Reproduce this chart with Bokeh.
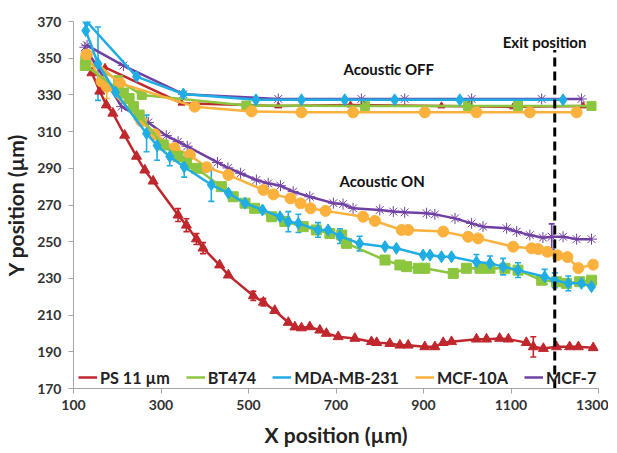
from bokeh.plotting import figure
from bokeh.models import (Legend, LegendItem, Label, FixedTicker, Whisker,
                          ColumnDataSource, TeeHead)
from bokeh.embed import file_html
from bokeh.resources import INLINE

# ---------------- data ----------------
x_ticks = [100, 300, 500, 700, 900, 1100, 1300]
y_ticks = [170, 190, 210, 230, 250, 270, 290, 310, 330, 350, 370]
exit_x = 1200

series_names = ["PS 11 \u00b5m", "BT474", "MDA-MB-231", "MCF-10A", "MCF-7"]

# Acoustic ON
red_on_x = [142, 160, 175, 190, 217, 244, 263, 282, 339, 358, 381, 396, 434, 454, 511, 534, 560, 591, 606, 621,
            640, 663, 678, 705, 743, 781, 793, 823, 846, 865, 903, 926, 945, 964, 1021, 1044, 1074, 1094, 1135,
            1151, 1174, 1204, 1234, 1254, 1288]
red_on_y = [342, 332, 324.5, 320, 308, 296.5, 289, 283, 264.5, 259, 251.5, 246.5, 237.3, 231.8, 220.5, 217, 212.5,
            206, 203.5, 203, 203.6, 201.8, 200, 198.2, 197.3, 195.5, 195, 194.5, 193.6, 193.6, 192.7, 192.7, 195,
            195.5, 196.9, 196.9, 197.3, 196.9, 195, 192.7, 191.8, 192.7, 192.7, 192.7, 192.2]
red_on_err = [0, 0, 0, 0, 0, 0, 0, 0, 3.5, 3.5, 3, 3, 0, 0, 2.5, 2, 0, 0, 0, 0,
              0, 0, 0, 0, 0, 0, 0, 0, 0, 0, 0, 0, 0, 0, 0, 0, 0, 0, 0,
              5.5, 0, 0, 0, 0, 0]

green_on_x = [127, 214, 227, 237, 250, 305, 339, 358, 381, 438, 465, 492, 514, 553, 583, 625, 655, 686, 713, 724,
              812, 846, 861, 888, 903, 968, 998, 1029, 1052, 1086, 1116, 1170, 1204, 1227, 1257, 1284]
green_on_y = [346, 331, 328, 323.6, 319, 302.7, 296.4, 292.7, 290, 280, 274.5, 271, 268.2, 263.6, 261, 258.2, 256.4,
              254.5, 253.6, 249.1, 240, 237.3, 236.4, 235.5, 235.5, 232.7, 235.5, 235.5, 235.5, 235.5, 234.5, 229,
              228.2, 227.3, 228.2, 229]

blue_on_x = [128, 156, 196, 267, 291, 320, 353, 415, 454, 492, 532, 572, 591, 614, 659, 682, 709, 754, 812, 838,
             899, 915, 941, 964, 1021, 1052, 1082, 1116, 1177, 1200, 1231, 1261, 1284]
blue_on_y = [365, 347, 331.5, 309, 302.4, 296.4, 290.7, 281, 276.5, 271, 267.3, 263.6, 260.9, 260, 256.4, 256.4,
             253, 249, 247.3, 246.4, 242.7, 242.7, 241.8, 241.8, 239, 238.2, 236.4, 234.5, 230.9, 229, 227.3,
             227.3, 225.5]
blue_on_err = [0, 20, 0, 10, 8, 5, 5.5, 9, 0, 0, 0, 0, 5.5, 5, 4, 0, 4, 4, 0, 0,
               0, 0, 0, 0, 4, 4, 4.5, 4, 4, 4, 4, 0, 0]

orange_on_x = [130, 164, 176, 255, 286, 331, 366, 404, 454, 534, 557, 596, 619, 642, 676, 762, 789, 850, 865, 945,
               1002, 1025, 1105, 1147, 1162, 1183, 1206, 1229, 1254, 1288]
orange_on_y = [352, 337.3, 334.5, 315.7, 308.5, 301, 297.3, 290.6, 286.4, 278.2, 275.8, 273.6, 270.9, 268.2, 266.8,
               263.6, 261.3, 256.4, 256.4, 255.5, 252.7, 251.8, 247.3, 246.4, 246, 244.5, 242.6, 241.6, 235.6, 237.5]
orange_on_err = [0, 0, 6.5, 0, 0, 0, 0, 0, 0, 0, 0, 0, 0, 0, 0, 0, 0, 0, 0, 0,
                 0, 0, 0, 0, 0, 0, 0, 0, 0, 0]

purple_on_x = [126, 210, 271, 312, 339, 360, 429, 453, 482, 518, 545, 573, 602, 640, 694, 716, 739, 800, 831, 857,
               907, 926, 972, 1010, 1036, 1090, 1113, 1143, 1173, 1193, 1219, 1250, 1284]
purple_on_y = [356, 323.6, 315, 307.8, 304.5, 302, 293.2, 290.2, 287.3, 283.6, 281.8, 280.5, 277.3, 274.5, 271,
               270.5, 268.2, 267.3, 266.4, 266, 265.5, 264.9, 262.7, 260, 258.2, 257.3, 255.5, 253.6, 252.2, 252.7,
               252.7, 251.4, 251.4]
purple_on_err = [0] * 29 + [7, 0, 0, 0]

# Acoustic OFF
red_off_x = [172, 347, 568, 733, 941, 1105, 1265]
red_off_y = [345, 325.5, 324, 324.5, 324, 323.5, 324]
green_off_x = [127, 202, 256, 495, 766, 1002, 1116, 1284]
green_off_y = [349, 338, 330, 324.2, 324, 324, 324, 324]
blue_off_x = [130, 244, 351, 517, 621, 720, 834, 983, 1219]
blue_off_y = [370, 340, 330.5, 327.3, 327.3, 327.3, 327.3, 327.3, 327.3]
orange_off_x = [130, 206, 377, 507, 621, 739, 903, 1021, 1143, 1250]
orange_off_y = [352, 336.4, 323.6, 321, 320.5, 320.5, 320.5, 320.5, 320.5, 320.5]
purple_off_x = [131, 214, 351, 568, 758, 857, 1010, 1170, 1261]
purple_off_y = [357, 346, 330.4, 327.8, 327.8, 327.8, 327.8, 327.8, 327.8]

# ---------------- styling ----------------
RED = "#C0272D"
GREEN = "#8CC63F"
BLUE = "#1FADE4"
ORANGE = "#FBB13C"
PURPLE = "#7140A3"
FONT = "Lato"

p = figure(frame_width=525, frame_height=367, output_backend="svg", toolbar_location=None,
           x_range=(100, 1300), y_range=(170, 370),
           min_border_left=69, min_border_right=10, min_border_top=21, min_border_bottom=10)
p.outline_line_color = None
p.xgrid.visible = False
p.ygrid.visible = False
p.background_fill_color = "white"

for ax in (p.xaxis[0], p.yaxis[0]):
    ax.axis_line_color = "#a6a6a6"
    ax.major_tick_line_color = "#a6a6a6"
    ax.minor_tick_line_color = None
    ax.major_tick_out = 5
    ax.major_tick_in = 0
    ax.major_label_text_font = FONT
    ax.major_label_text_font_style = "bold"
    ax.major_label_text_font_size = "14px"
    ax.major_label_text_color = "#333333"
    ax.axis_label_text_font = FONT
    ax.axis_label_text_font_style = "bold"
    ax.axis_label_text_font_size = "21px"
    ax.axis_label_text_color = "#222222"
p.xaxis.ticker = FixedTicker(ticks=x_ticks)
p.yaxis.ticker = FixedTicker(ticks=y_ticks)
p.xaxis.axis_label = "X position (\u00b5m)"
p.yaxis.axis_label = "Y position (\u00b5m)"
p.xaxis.major_label_standoff = 6
p.yaxis.major_label_standoff = 7
p.xaxis.axis_label_standoff = 9
p.yaxis.axis_label_standoff = 6

LW = 2.5


def errbars(x, y, e, color):
    bx = [xi for xi, ei in zip(x, e) if ei]
    by = [yi for yi, ei in zip(y, e) if ei]
    be = [ei for ei in e if ei]
    src = ColumnDataSource(dict(base=bx, upper=[a + b for a, b in zip(by, be)],
                                lower=[a - b for a, b in zip(by, be)]))
    w = Whisker(source=src, base="base", upper="upper", lower="lower",
                line_color=color, line_width=1.6,
                upper_head=TeeHead(size=6, line_color=color, line_width=1.6),
                lower_head=TeeHead(size=6, line_color=color, line_width=1.6))
    p.add_layout(w)


def series(x, y, color, marker, size):
    r = p.line(x, y, line_color=color, line_width=LW)
    p.scatter(x, y, marker=marker, size=size, fill_color=color, line_color=color)
    return r


# OFF
series(red_off_x, red_off_y, RED, "triangle", 7)
series(green_off_x, green_off_y, GREEN, "square", 9)
series(orange_off_x, orange_off_y, ORANGE, "circle", 11)
series(purple_off_x, purple_off_y, PURPLE, "asterisk", 11)
series(blue_off_x, blue_off_y, BLUE, "diamond", 12)

# ON
errbars(red_on_x, red_on_y, red_on_err, RED)
errbars(blue_on_x, blue_on_y, blue_on_err, BLUE)
errbars(orange_on_x, orange_on_y, orange_on_err, ORANGE)
errbars(purple_on_x, purple_on_y, purple_on_err, PURPLE)
r_red = series(red_on_x, red_on_y, RED, "triangle", 10)
r_purple = series(purple_on_x, purple_on_y, PURPLE, "asterisk", 11)
r_orange = series(orange_on_x, orange_on_y, ORANGE, "circle", 11)
r_green = series(green_on_x, green_on_y, GREEN, "square", 10)
r_blue = series(blue_on_x, blue_on_y, BLUE, "diamond", 12)

# exit position
p.segment(x0=[exit_x], y0=[170], x1=[exit_x], y1=[354.5], line_color="black",
          line_width=3, line_dash="9 5")

for txt, lx, ly in [("Acoustic OFF", 717, 344), ("Acoustic ON", 708, 283), ("Exit position", 1081, 359)]:
    p.add_layout(Label(x=lx, y=ly, text=txt, text_font=FONT, text_font_style="bold",
                       text_font_size="15px", text_color="#111111", text_baseline="middle"))

legend = Legend(items=[LegendItem(label=n, renderers=[r]) for n, r in
                       zip(series_names, [r_red, r_green, r_blue, r_orange, r_purple])],
                orientation="horizontal", location=(5, 1), background_fill_alpha=0,
                border_line_alpha=0, label_text_font=FONT, label_text_font_style="bold",
                label_text_font_size="16.2px", label_text_color="#222222",
                glyph_width=19, label_standoff=3, spacing=16, padding=0, margin=0)
p.add_layout(legend, "center")

open("out.html", "w").write(file_html(p, INLINE))
